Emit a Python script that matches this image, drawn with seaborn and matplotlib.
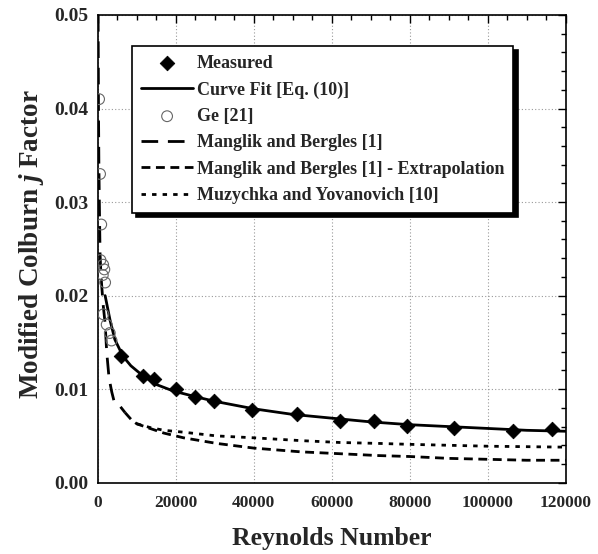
import numpy as np
import pandas as pd
import matplotlib
matplotlib.use("Agg")
import matplotlib.pyplot as plt
import seaborn as sns
from matplotlib.ticker import MultipleLocator

# ---- data ----
meas_re = [5900, 11700, 14400, 20000, 24950, 29800, 39500, 51000, 62100, 70900, 79200, 91400, 106600, 116400]
meas_j = [0.0135, 0.0114, 0.0111, 0.0100, 0.0092, 0.0087, 0.0078, 0.0073, 0.0066, 0.0066, 0.0061, 0.0059, 0.0055, 0.0057]

fit_re = [1900, 3150, 4400, 6500, 8500, 10800, 15000, 19400, 25000, 30000, 40000, 50000, 60000, 70000, 80000, 90000, 100000, 110000, 120000]
fit_j = [0.0200, 0.0174, 0.0153, 0.0135, 0.0125, 0.0117, 0.0105, 0.0098, 0.0092, 0.0087, 0.0079, 0.0073, 0.0069, 0.0065, 0.0062, 0.0060, 0.0058, 0.0056, 0.0055]

ge_re = [350, 600, 900, 700, 1400, 1700, 1300, 1900, 1450, 2300, 3100, 3550]
ge_j = [0.0410, 0.0330, 0.0276, 0.0238, 0.0233, 0.0228, 0.0222, 0.0214, 0.0180, 0.0169, 0.0160, 0.0152]

mb_re = [100, 200, 300, 450, 600, 800, 1000, 1400, 1900, 2300, 2900, 3600, 4200, 5300, 7000]
mb_j = [0.0500, 0.0400, 0.0340, 0.0290, 0.0245, 0.0225, 0.0212, 0.0190, 0.0170, 0.0140, 0.0112, 0.0097, 0.0087, 0.0084, 0.0075]

ext_re = [7000, 8700, 10000, 13400, 17000, 22000, 30500, 40000, 52000, 62000, 72000, 80000, 90000, 100000, 110000, 120000]
ext_j = [0.0075, 0.0067, 0.0063, 0.0058, 0.0053, 0.0048, 0.0042, 0.0037, 0.0033, 0.0031, 0.0029, 0.0028, 0.0026, 0.0025, 0.0024, 0.0024]

muz_re = [10000, 13400, 17000, 22000, 30500, 40000, 52000, 62000, 72000, 80000, 90000, 100000, 110000, 120000]
muz_j = [0.0063, 0.0059, 0.0056, 0.0054, 0.0050, 0.0048, 0.0045, 0.0043, 0.0042, 0.0041, 0.0040, 0.0039, 0.00385, 0.0038]

labels = ["Measured", "Curve Fit [Eq. (10)]", "Ge [21]", "Manglik and Bergles [1]",
          "Manglik and Bergles [1] - Extrapolation", "Muzychka and Yovanovich [10]"]

sns.set_style("white")
plt.rcParams["font.family"] = ["Liberation Serif", "DejaVu Serif"]
plt.rcParams["font.weight"] = "bold"
plt.rcParams["mathtext.fontset"] = "custom"
plt.rcParams["mathtext.it"] = "Liberation Serif:italic:bold"
plt.rcParams["mathtext.rm"] = "Liberation Serif:bold"

fig = plt.figure(figsize=(5.98, 5.54), dpi=100)
ax = fig.add_axes([0.1634, 0.1287, 0.7826, 0.8443])

lw = 2.0
sns.scatterplot(x=meas_re, y=meas_j, ax=ax, marker="D", s=55, color="black",
                edgecolor="black", zorder=5, label=labels[0])
sns.lineplot(x=fit_re, y=fit_j, ax=ax, color="black", lw=lw, sort=False, label=labels[1])
sns.scatterplot(x=ge_re, y=ge_j, ax=ax, marker="o", s=60, facecolor="none",
                edgecolor="#666666", linewidth=0.8, zorder=4, label=labels[2])
sns.lineplot(x=mb_re, y=mb_j, ax=ax, color="black", lw=lw, sort=False, label=labels[3])
ax.lines[-1].set_dashes([6, 3.5])
sns.lineplot(x=ext_re, y=ext_j, ax=ax, color="black", lw=lw, sort=False, label=labels[4])
ax.lines[-1].set_dashes([3.2, 2])
sns.lineplot(x=muz_re, y=muz_j, ax=ax, color="black", lw=lw, sort=False, label=labels[5])
ax.lines[-1].set_dashes([1.6, 2.2])

ax.xaxis.set_major_locator(MultipleLocator(20000))
ax.xaxis.set_minor_locator(MultipleLocator(5000))
ax.yaxis.set_major_locator(MultipleLocator(0.01))
ax.yaxis.set_minor_locator(MultipleLocator(0.002))
ax.set_xlim(0, 120000)
ax.set_ylim(0, 0.05)
yt = [0.0, 0.01, 0.02, 0.03, 0.04, 0.05]
xt = [0, 20000, 40000, 60000, 80000, 100000, 120000]
ax.set_yticks(yt)
ax.set_yticklabels([f"{v:.2f}" for v in yt])
ax.set_xticks(xt)
ax.set_xticklabels([f"{v}" for v in xt])
ax.set_xlim(0, 120000)
ax.set_ylim(0, 0.05)
ax.tick_params(which="both", direction="in", top=True, right=True, width=1, color="black")
ax.tick_params(which="major", length=6)
ax.tick_params(which="minor", length=3.5)
ax.tick_params(axis="x", which="major", labelsize=12.5, pad=9)
ax.tick_params(axis="y", which="major", labelsize=14, pad=6.5)
for lab in ax.get_xticklabels() + ax.get_yticklabels():
    lab.set_fontweight("bold")
ax.grid(True, which="major", linestyle=(0, (1, 2)), color="#999999", linewidth=0.8)
for s in ax.spines.values():
    s.set_color("black")
    s.set_linewidth(1.2)

ax.set_xlabel("Reynolds Number", fontsize=18.5, fontweight="bold")
ax.set_ylabel(r"Modified Colburn $\mathit{j}$ Factor", fontsize=19.5, fontweight="bold")
ax.xaxis.set_label_coords(0.5, -0.094)
ax.yaxis.set_label_coords(-0.11, 0.509)

leg = ax.legend(loc="upper left", bbox_to_anchor=(0.073, 0.934), fontsize=13,
                frameon=True, fancybox=False, edgecolor="black", framealpha=1,
                shadow={"color": "black", "alpha": 1, "ox": 3, "oy": -3},
                handlelength=2.9, handletextpad=0.2, borderpad=0.5, labelspacing=0.52,
                borderaxespad=0)
leg.get_frame().set_linewidth(1.2)
for t in leg.get_texts():
    t.set_fontweight("bold")

fig.savefig("out.png", dpi=100)
